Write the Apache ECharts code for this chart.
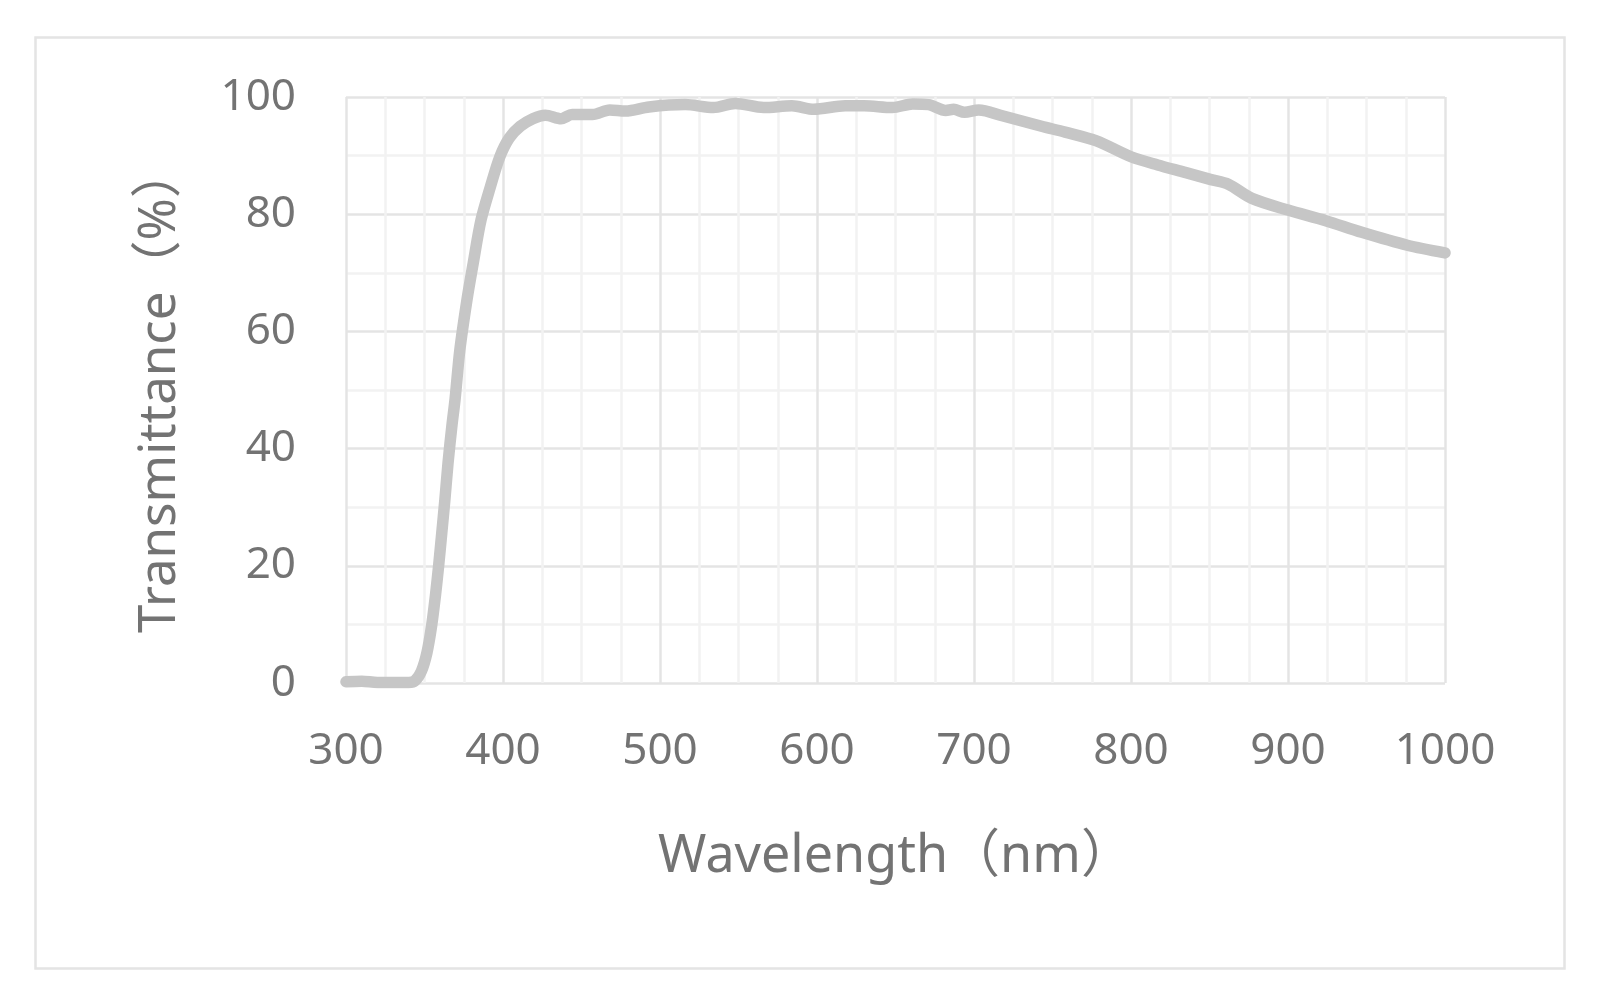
<!DOCTYPE html>
<html>
<head>
<meta charset="utf-8">
<script src="https://cdn.jsdelivr.net/npm/echarts@6/dist/echarts.min.js"></script>
<style>
html,body{margin:0;padding:0;background:#fff;}
#chart{width:1600px;height:1000px;}
</style>
</head>
<body>
<div id="chart"></div>
<script>
// Wavelength (nm)
var wavelengths = [300,310,320,330,340,344,348,351.5,354.5,357,359,361,363,365,367.5,369.5,372.5,377,381,386,392,398,404,411,419,427,437,444,457,468,478,493,516,534,548,566,584,598,618,630,648,661,671,682,687,694,703,718,743,758,778,800,817,835,851,862,877,900,924,947,976,1000];
// Transmittance (%)
var transmittance = [0.2,0.3,0.1,0.1,0.1,0.4,2.0,5.1,9.7,15,20,25.6,31.3,37.6,44,48.5,56.8,65.3,71.6,79,84.7,89.8,93,95,96.3,96.9,96.3,97.0,97.0,97.8,97.6,98.3,98.7,98.2,98.9,98.2,98.5,97.9,98.5,98.5,98.2,98.8,98.7,97.7,97.9,97.4,97.8,96.8,95.0,94.0,92.5,89.8,88.4,87.1,85.9,85.1,82.7,80.7,78.9,76.9,74.7,73.4];
var xTicks = [300,400,500,600,700,800,900,1000];
var yTicks = [0,20,40,60,80,100];
var xName = 'Wavelength（nm）';
var yName = 'Transmittance（%）';

var seriesData = wavelengths.map(function(w,i){return [w, transmittance[i]];});
var textColor = '#737373';
var font = '"Noto Sans", "Noto Sans CJK SC", sans-serif';
var majorGrid = {show:true, lineStyle:{color:'#e4e4e4', width:2.5}};
var minorGrid = {show:true, lineStyle:{color:'#f2f2f2', width:2.5}};

var chart = echarts.init(document.getElementById('chart'));
chart.setOption({
  backgroundColor:'#ffffff',
  animation:false,
  graphic:[{
    type:'rect', left:33, top:35, silent:true,
    shape:{width:1529, height:931},
    style:{fill:'none', stroke:'#e4e4e4', lineWidth:2.5}
  }],
  grid:{left:346, right:155, top:97, bottom:317, containLabel:false},
  xAxis:{
    type:'value', min:xTicks[0], max:xTicks[xTicks.length-1], interval:100,
    name:xName, nameLocation:'middle', nameGap:148,
    nameTextStyle:{color:textColor, fontSize:52, fontFamily:font},
    axisLine:{show:false}, axisTick:{show:false},
    axisLabel:{color:textColor, fontSize:44, fontFamily:font, margin:46,
      formatter:function(v){return String(v);}},
    splitLine:majorGrid,
    minorTick:{show:false, splitNumber:4},
    minorSplitLine:minorGrid
  },
  yAxis:{
    type:'value', min:yTicks[0], max:yTicks[yTicks.length-1], interval:20,
    name:yName, nameLocation:'middle', nameGap:160,
    nameTextStyle:{color:textColor, fontSize:51, fontFamily:font},
    axisLine:{show:false}, axisTick:{show:false},
    axisLabel:{color:textColor, fontSize:44, fontFamily:font, margin:50,
      formatter:function(v){return String(v);}},
    splitLine:majorGrid,
    minorTick:{show:false, splitNumber:2},
    minorSplitLine:minorGrid
  },
  series:[{
    type:'line', data:seriesData, showSymbol:false, smooth:0.3,
    lineStyle:{color:'#c6c6c6', width:11.5, cap:'round', join:'round'},
    z:5
  }]
});
</script>
</body>
</html>
